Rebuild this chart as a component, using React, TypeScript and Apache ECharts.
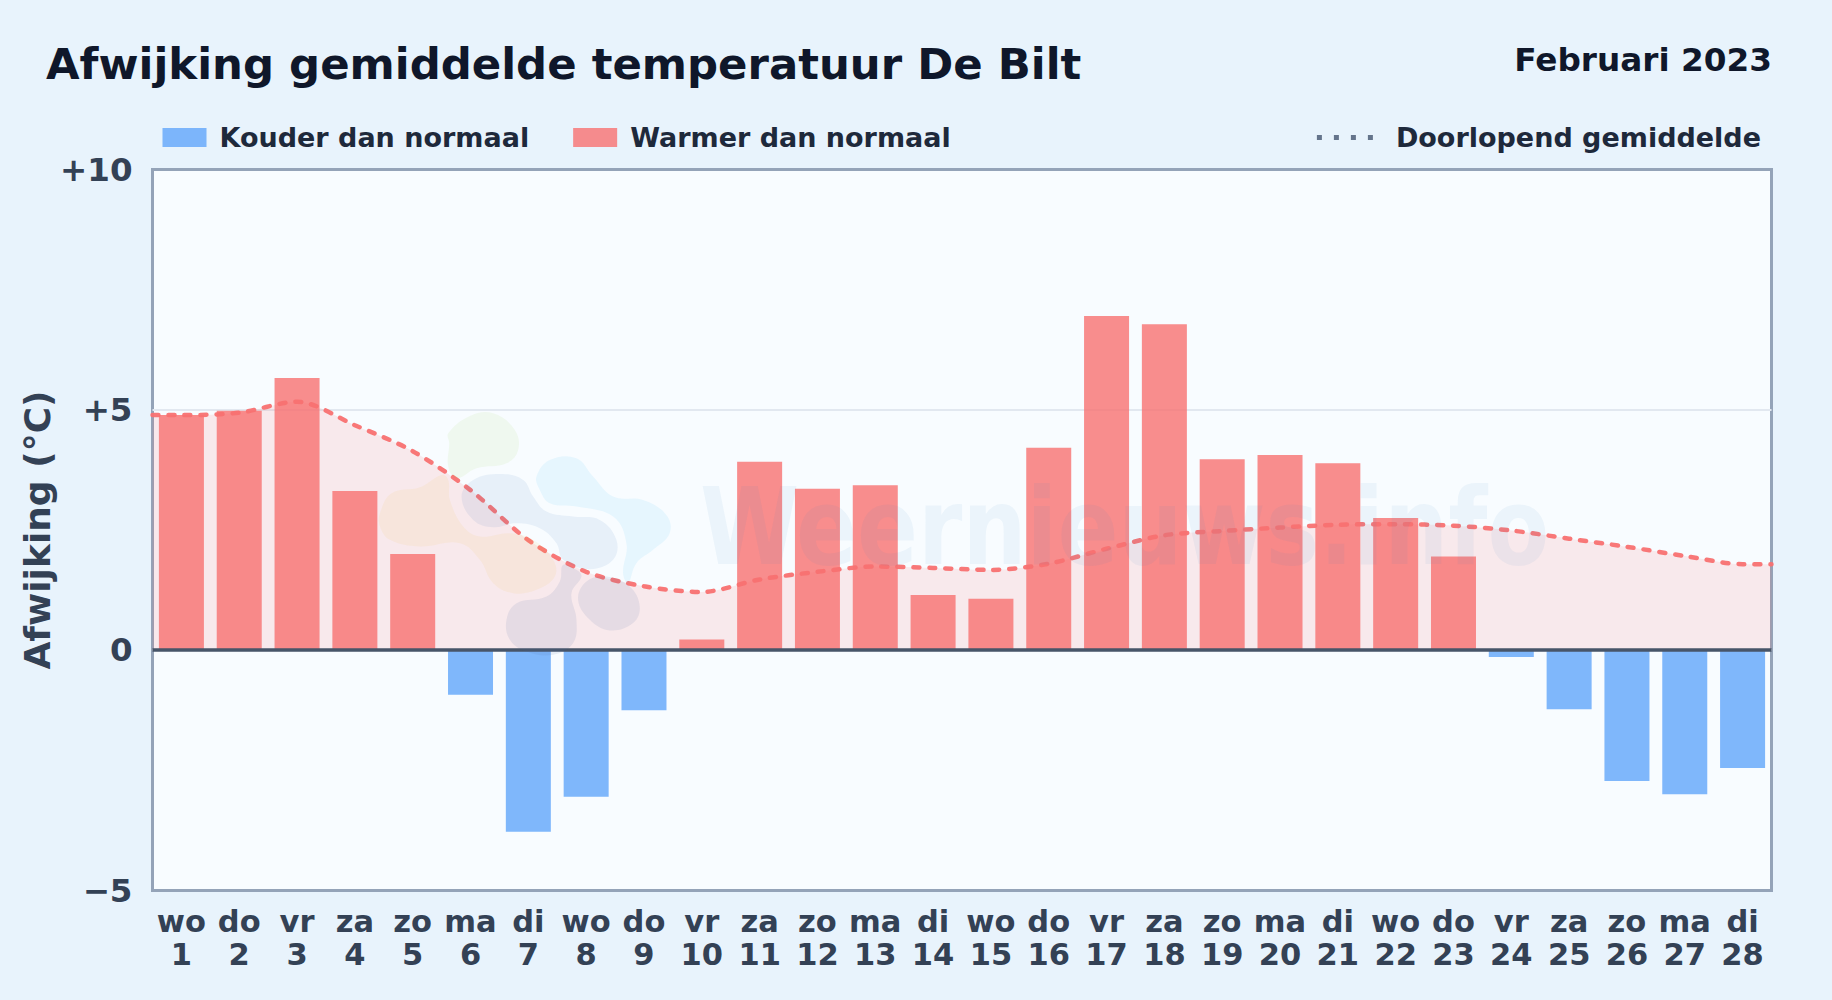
import React, { useEffect, useRef } from "react";
import * as echarts from "echarts";

const FONT = "DejaVu Sans";
const weekdays = ["wo","do","vr","za","zo","ma","di","wo","do","vr","za","zo","ma","di","wo","do","vr","za","zo","ma","di","wo","do","vr","za","zo","ma","di"];
const dates = ["1","2","3","4","5","6","7","8","9","10","11","12","13","14","15","16","17","18","19","20","21","22","23","24","25","26","27","28"];
const deviation = [4.89,4.98,5.66,3.31,2.0,-0.93,-3.78,-3.05,-1.25,0.22,3.92,3.36,3.43,1.15,1.07,4.21,6.95,6.78,3.97,4.06,3.89,2.75,1.95,-0.14,-1.23,-2.72,-3.0,-2.45];
const runningMean = [4.89,4.94,5.17,4.68,4.14,3.33,2.29,1.63,1.33,1.21,1.47,1.63,1.74,1.71,1.67,1.8,2.11,2.39,2.48,2.55,2.61,2.62,2.59,2.49,2.32,2.15,1.96,1.79];
const yTicks: Record<string, string> = { "10": "+10", "5": "+5", "0": "0", "-5": "\u22125" };

const COLD = "Kouder dan normaal";
const WARM = "Warmer dan normaal";
const MEAN = "Doorlopend gemiddelde";

const categories = weekdays.map((d, i) => `${d}\n${dates[i]}`);
const warmValues = deviation.map((v) => (v > 0 ? v : null));
const coldValues = deviation.map((v) => (v < 0 ? v : null));
const meanPoints = [
  [0, runningMean[0]],
  ...runningMean.map((v, i) => [i + 0.5, v]),
  [runningMean.length, runningMean[runningMean.length - 1]],
];

// Decorative logo watermark, outlines traced in a 3x crop of the picture
const blobs: { fill: string; pts: number[][] }[] = [
  { fill: "rgba(132,204,22,0.07)", pts: [[265,100],[330,48],[400,40],[465,90],[475,150],[440,190],[350,205],[290,235],[265,200],[268,130]] },
  { fill: "rgba(234,179,8,0.07)", pts: [[60,340],[95,280],[180,262],[245,225],[265,240],[270,300],[310,380],[360,410],[450,400],[520,420],[580,480],[585,530],[530,570],[460,580],[400,550],[360,480],[300,430],[180,440],[90,420],[60,380]] },
  { fill: "rgba(37,99,180,0.08)", pts: [[305,290],[340,240],[420,222],[490,240],[520,290],[560,335],[640,350],[720,360],[770,420],[760,480],[690,508],[610,480],[590,430],[540,385],[470,370],[400,382],[340,360]] },
  { fill: "rgba(56,189,248,0.09)", pts: [[530,230],[570,180],[650,175],[700,230],[760,290],[850,300],[920,345],[930,400],[880,450],[830,490],[805,550],[790,520],[800,430],[760,350],[650,320],[570,310],[540,270]] },
  { fill: "rgba(70,100,160,0.1)", pts: [[440,660],[470,610],[560,590],[600,545],[610,495],[650,510],[665,530],[635,580],[650,660],[640,730],[580,765],[500,755],[450,720]] },
  { fill: "rgba(70,100,160,0.1)", pts: [[655,600],[680,545],[740,530],[810,560],[840,620],[820,670],[750,692],[690,660]] },
];

export default function App() {
  const ref = useRef<HTMLDivElement>(null);
  useEffect(() => {
    const chart = echarts.init(ref.current!, undefined, { renderer: "svg" });
    chart.setOption({
      animation: false,
      backgroundColor: "#e8f3fc",
      textStyle: { fontFamily: FONT },
      title: [
        { text: "Afwijking gemiddelde temperatuur De Bilt", left: 41, top: 37.5, textStyle: { fontFamily: FONT, fontWeight: "bold", fontSize: 43.4, color: "#0f172a" } },
        { text: "Februari 2023", right: 55, top: 38, textStyle: { fontFamily: FONT, fontWeight: "bold", fontSize: 32.7, color: "#0f172a" } },
      ],
      legend: [
        {
          left: 157.5, top: 119, selectedMode: false, itemWidth: 44, itemHeight: 19, itemGap: 44,
          textStyle: { fontFamily: FONT, fontWeight: "bold", fontSize: 27, color: "#1e293b", padding: [0, 0, 0, 8] },
          data: [{ name: COLD, icon: "rect" }, { name: WARM, icon: "rect" }],
        },
        {
          right: 66, top: 119, selectedMode: false, itemWidth: 56, itemHeight: 5,
          textStyle: { fontFamily: FONT, fontWeight: "bold", fontSize: 27, color: "#1e293b", padding: [0, 0, 0, 18] },
          data: [{ name: MEAN, itemStyle: { opacity: 0 }, lineStyle: { color: "#64748b", width: 5, type: [5, 12], cap: "butt", opacity: 1 } }],
        },
      ],
      grid: {
        left: 152.5, top: 169.5, width: 1619, height: 721, show: true,
        backgroundColor: "#f8fcff", borderColor: "#94a3b8", borderWidth: 3,
      },
      xAxis: [
        {
          type: "category", data: categories,
          axisLine: { show: false }, axisTick: { show: false }, splitLine: { show: false },
          axisLabel: { interval: 0, margin: 14, fontFamily: FONT, fontWeight: "bold", fontSize: 30.5, lineHeight: 33.5, color: "#334155" },
        },
        { type: "value", min: 0, max: 28, show: false },
      ],
      yAxis: {
        type: "value", min: -5, max: 10, interval: 5,
        name: "Afwijking (\u00B0C)", nameLocation: "middle", nameRotate: 90, nameGap: 97.5, nameMoveOverlap: false,
        nameTextStyle: { fontFamily: FONT, fontWeight: "bold", fontSize: 36, color: "#334155" },
        axisLine: { show: false }, axisTick: { show: false },
        axisLabel: { margin: 20, fontFamily: FONT, fontWeight: "bold", fontSize: 32.5, color: "#334155", formatter: (v: number) => yTicks[String(v)] ?? String(v) },
        splitLine: { show: true, showMinLine: false, showMaxLine: false, lineStyle: { color: "#e2e8f0", width: 2 } },
      },
      series: [
        {
          name: COLD, type: "bar", data: coldValues, barWidth: 45, barGap: "-100%", z: 2,
          itemStyle: { color: "rgba(96,165,250,0.8)" },
        },
        {
          name: WARM, type: "bar", data: warmValues, barWidth: 45, barGap: "-100%", z: 2,
          itemStyle: { color: "rgba(248,113,113,0.8)" },
        },
        {
          name: MEAN, type: "line", xAxisIndex: 1, yAxisIndex: 0, data: meanPoints, z: 1,
          showSymbol: false, symbol: "none", smooth: 0.3,
          lineStyle: { opacity: 0 },
          itemStyle: { color: "#64748b" },
          areaStyle: { color: "rgba(248,113,113,0.135)", opacity: 1 },
        },
        {
          // The dashed line and zero line run above the bars, the fill stays beneath them
          name: MEAN + " lijn", type: "line", xAxisIndex: 1, yAxisIndex: 0, data: meanPoints, z: 4,
          showSymbol: false, symbol: "none", smooth: 0.3,
          lineStyle: { color: "rgba(248,113,113,0.95)", width: 4.5, type: [6, 10], cap: "round" },
          markLine: {
            silent: true, symbol: "none", label: { show: false },
            lineStyle: { color: "#475569", width: 3.5, type: "solid" },
            data: [{ yAxis: 0 }],
          },
        },
      ],
      graphic: [
        ...blobs.map((b) => ({
          type: "polygon", x: 360, y: 400, scaleX: 1 / 3, scaleY: 1 / 3, z: 100, silent: true,
          shape: { points: b.pts, smooth: 0.4 },
          style: { fill: b.fill },
        })),
        {
          type: "text", x: 700, y: 473, scaleX: 0.841, z: 100, silent: true,
          style: { text: "Weernieuws.info", fontFamily: FONT, fontWeight: "bold", fontSize: 107, fill: "rgba(59,130,200,0.065)" },
        },
      ],
    });
    return () => chart.dispose();
  }, []);
  return <div ref={ref} style={{ position: "absolute", left: 0, top: 0, width: 1832, height: 1000 }} />;
}
